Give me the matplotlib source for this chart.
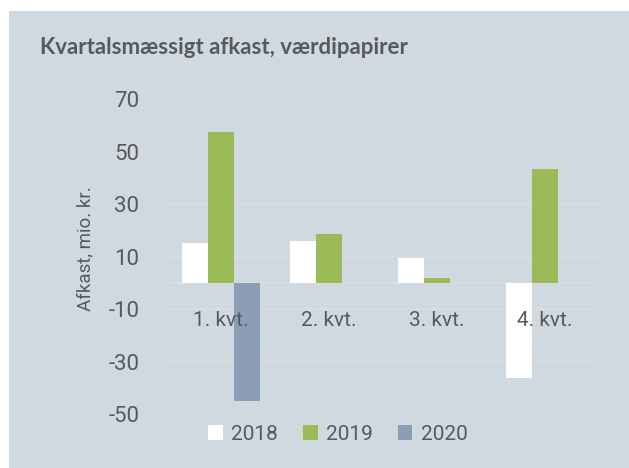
import numpy as np
import matplotlib.pyplot as plt
from matplotlib.patches import Rectangle

plt.rcParams['axes.unicode_minus'] = False

# Data (mio. kr.)
kvartaler = ['1. kvt.', '2. kvt.', '3. kvt.', '4. kvt.']
afkast_2018 = [15.1, 16.0, 9.6, -36.2]
afkast_2019 = [57.5, 18.8, 1.7, 43.4]
afkast_2020 = [-45.0, np.nan, np.nan, np.nan]
aar = ['2018', '2019', '2020']
farver = ['#ffffff', '#9bbb59', '#8b9eb5']

bg = '#d0d9e0'
tekst = '#595959'

fig = plt.figure(figsize=(6.29, 4.68), dpi=100)
fig.patch.set_facecolor('white')
fig.patches.append(Rectangle((9 / 629, 0), 1, 1 - 11 / 468, transform=fig.transFigure,
                             facecolor=bg, edgecolor='none', zorder=-10))

ax = fig.add_axes([167 / 629, 1 - 414 / 468, 432 / 629, (414 - 99.3) / 468])
ax.set_facecolor('none')

x = np.arange(len(kvartaler))
w = 0.24
for i, (serie, farve) in enumerate(zip([afkast_2018, afkast_2019, afkast_2020], farver)):
    ax.bar(x + (i - 1) * w, serie, w, color=farve, label=aar[i], zorder=2)

ax.set_xlim(-0.5, 3.5)
ax.set_ylim(-50, 70)
ax.set_yticks(range(-50, 71, 20))
ax.yaxis.grid(True, color='#dcdcdc', linewidth=1.2)
ax.yaxis.set_zorder(0.5)
ax.xaxis.set_zorder(4)
ax.axhline(0, color='#dcdcdc', linewidth=1.2, zorder=1)
for s in ax.spines.values():
    s.set_visible(False)
ax.spines['bottom'].set_position(('data', 0))
ax.set_xticks(x)
ax.set_xticklabels(kvartaler)
ax.tick_params(axis='x', length=0, pad=20, labelsize=15, labelcolor=tekst)
ax.tick_params(axis='y', length=0, pad=20, labelsize=16, labelcolor=tekst)
for lab in ax.get_xticklabels() + ax.get_yticklabels():
    lab.set_fontfamily(['Roboto', 'DejaVu Sans'])

fig.text(85 / 629, 1 - 249 / 468, 'Afkast, mio. kr.', rotation=90, ha='center', va='center',
         fontsize=13.5, color=tekst, family=['Roboto', 'DejaVu Sans'])

fig.text(40 / 629, 1 - 48 / 468, 'Kvartalsmæssigt afkast, værdipapirer', ha='left', va='center',
         fontsize=16, fontweight='bold', color=tekst,
         family=['Lato', 'DejaVu Sans'])

fig.legend(loc='center', bbox_to_anchor=(338 / 629, 1 - 434 / 468), ncol=3, frameon=False,
           prop={'family': 'Roboto', 'size': 15}, labelcolor=tekst,
           handlelength=0.7, handleheight=0.7, handletextpad=0.4, columnspacing=1.2)

fig.savefig('out.png', dpi=100, facecolor=fig.get_facecolor())
